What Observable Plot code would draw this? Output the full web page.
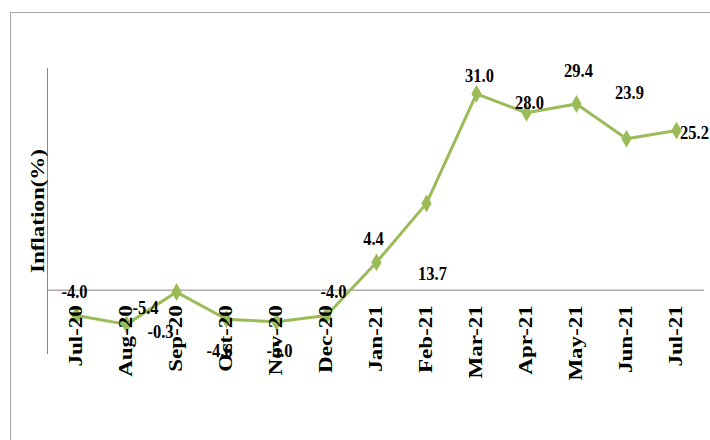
<!DOCTYPE html>
<html>
<head>
<meta charset="utf-8">
<script src="https://cdn.jsdelivr.net/npm/d3@7"></script>
<script src="https://cdn.jsdelivr.net/npm/@observablehq/plot@0.6"></script>
<style>
  html, body { margin: 0; padding: 0; background: #fff; }
  #wrap { position: relative; width: 710px; height: 440px; overflow: hidden; }
  #border { position: absolute; left: 10px; top: 12px; width: 720px; height: 440px;
            border-left: 1px solid #a6a6a6; border-top: 1px solid #a6a6a6; pointer-events: none; }
  #chart { position: absolute; left: 0; top: 0; }
</style>
</head>
<body>
<div id="wrap"><div id="border"></div><div id="chart"></div></div>
<script>
const months = ["Jul-20","Aug-20","Sep-20","Oct-20","Nov-20","Dec-20","Jan-21","Feb-21","Mar-21","Apr-21","May-21","Jun-21","Jul-21"];
const inflation = [-4.0, -5.4, -0.3, -4.6, -5.0, -4.0, 4.4, 13.7, 31.0, 28.0, 29.4, 23.9, 25.2];
const labelText = ["-4.0","-5.4","-0.3","-4.6","-5.0","-4.0","4.4","13.7","31.0","28.0","29.4","23.9","25.2"];
const yTitle = "Inflation(%)";
// label offsets (pixels) replicating the reference's label placement
const labelOffsets = [[-2,-24],[19,-17],[-16,40],[-7,31],[3,29],[7,-24],[-3,-24],[6,70],[3,-18],[3,-10],[2,-33],[3,-46],[18,2]];

const data = months.map((m, i) => ({month: m, value: inflation[i], label: labelText[i]}));
const green = "#9bbb59";
const gray = "#868686";

const labelMarks = data.map((d, i) => Plot.text([d], {
  x: "month", y: "value", text: "label",
  dx: labelOffsets[i][0], dy: labelOffsets[i][1],
  fontSize: 16.5, fontWeight: "bold", fill: "#000", lineAnchor: "middle"
}));

const chart = Plot.plot({
  width: 710,
  height: 440,
  marginLeft: 47,
  marginRight: 6,
  marginTop: 68,
  marginBottom: 87,
  style: {fontFamily: "'Liberation Serif', 'Times New Roman', serif", background: "transparent", overflow: "visible"},
  x: {type: "band", domain: months, padding: 0, axis: null},
  y: {domain: [-10, 35], axis: null},
  marks: [
    Plot.frame({anchor: "left", stroke: gray}),
    Plot.ruleY([0], {stroke: gray, strokeWidth: 1}),
    Plot.line(data, {x: "month", y: "value", stroke: green, strokeWidth: 3}),
    Plot.dot(data, {x: "month", y: "value", symbol: "diamond", r: 4.5, fill: green, stroke: green}),
    ...labelMarks,
    Plot.text(months, {x: d => d, y: 0, text: d => d, rotate: -90, textAnchor: "end", lineAnchor: "middle",
      dy: 15, fontSize: 18, fontWeight: "bold", fill: "#000"}),
    Plot.text([yTitle], {frameAnchor: "left", text: d => d, rotate: -90, dx: -9, textAnchor: "middle", lineAnchor: "middle",
      fontSize: 18, fontWeight: "bold", fill: "#000"})
  ]
});
// vertical stretch of the typography, as in the reference picture
d3.select(chart).selectAll("text").each(function () {
  const t = this.textContent;
  const tr = this.getAttribute("transform");
  let s = null;
  if (months.includes(t) || t === yTitle) s = 1.28;
  else if (labelText.includes(t)) s = 1.2;
  if (s == null) return;
  if (tr && tr.includes("rotate")) {
    this.setAttribute("transform", tr.replace("rotate", `scale(1,${s}) rotate`));
  } else if (tr) {
    this.setAttribute("transform", `${tr} scale(1,${s})`);
  } else {
    this.style.letterSpacing = "0px";
  }
});
document.getElementById("chart").appendChild(chart);
</script>
</body>
</html>
